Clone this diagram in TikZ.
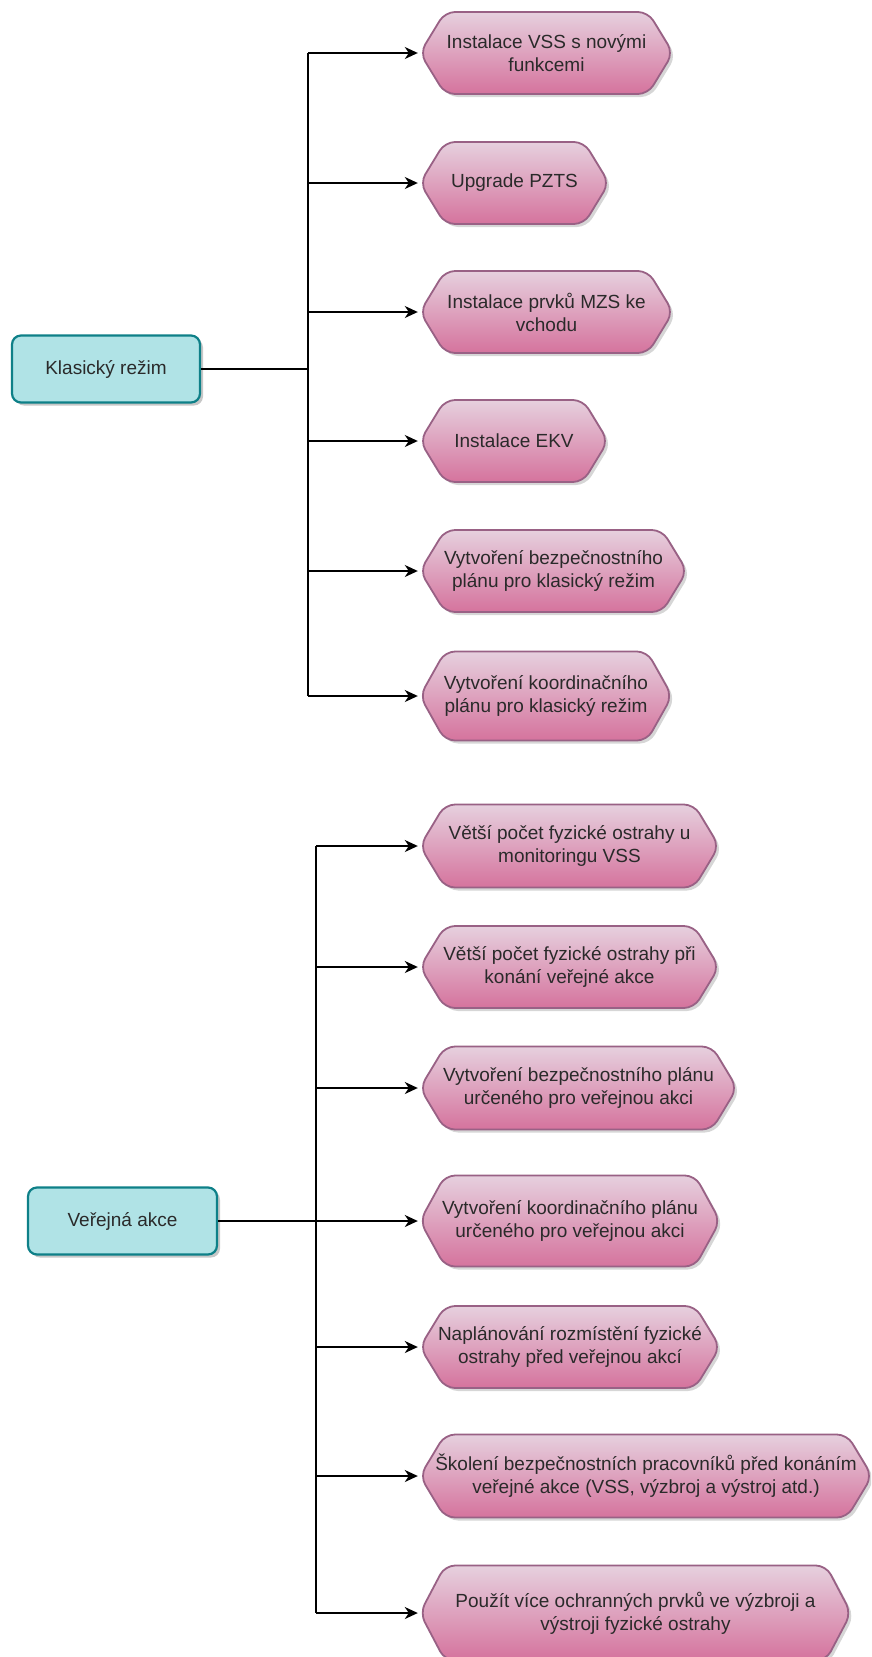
\documentclass[tikz,border=0pt]{standalone}
\usepackage{fontspec}
\setmainfont{Liberation Sans}
\usetikzlibrary{arrows.meta,shadows}
\definecolor{hexTop}{HTML}{E6D0DE}
\definecolor{hexBot}{HTML}{D5739D}
\definecolor{hexLine}{HTML}{996185}
\definecolor{boxFill}{HTML}{B0E3E6}
\definecolor{boxLine}{HTML}{0E8088}
\definecolor{txt}{HTML}{2A2A2A}
\tikzset{
  hexpath/.style={top color=hexTop, bottom color=hexBot, draw=hexLine, line width=1.8pt, rounded corners=10pt},
  hexshadow/.style={fill=black, opacity=0.16, rounded corners=10pt},
  hextext/.style={shape=rectangle, inner sep=0pt, align=center, text=txt,
    font=\fontsize{19}{23}\selectfont},
  mainbox/.style={shape=rectangle, rounded corners=9pt, draw=boxLine, fill=boxFill, line width=2.2pt,
    text=txt, font=\fontsize{19}{23}\selectfont, inner sep=0pt,
    drop shadow={shadow xshift=3pt, shadow yshift=-3pt, opacity=0.22, fill=black}},
  link/.style={draw=black, line width=1.6pt},
  arr/.style={draw=black, line width=1.6pt, -{Stealth[length=13pt,width=12pt,inset=4pt]}, shorten >=2pt}
}
% #1 name, #2 left x, #3 centre y, #4 width, #5 height, #6 text
\newcommand{\mkhex}[6]{%
  \path[hexshadow] ({#2+3},{#3+3}) -- ({#2+28},{#3+3-#5/2}) -- ({#2+#4-22},{#3+3-#5/2}) -- ({#2+#4+3},{#3+3})
     -- ({#2+#4-22},{#3+3+#5/2}) -- ({#2+28},{#3+3+#5/2}) -- cycle;
  \shade[hexpath] (#2,#3) -- ({#2+25},{#3-#5/2}) -- ({#2+#4-25},{#3-#5/2}) -- ({#2+#4},#3)
     -- ({#2+#4-25},{#3+#5/2}) -- ({#2+25},{#3+#5/2}) -- cycle;
  \node[hextext, minimum width=#4pt, minimum height=#5pt] (#1) at ({#2+#4/2},#3) {#6};
}
\begin{document}
\begin{tikzpicture}[x=1pt,y=-1pt]
\clip (0,0) rectangle (871,1657);
\fill[white] (0,0) rectangle (871,1657);

% ---------- Klasický režim ----------
\node[mainbox, minimum width=188pt, minimum height=67pt] (k) at (106,369) {Klasický režim};

\mkhex{h1}{420}{53}{253}{82}{Instalace VSS s novými\\funkcemi}
\mkhex{h2}{420}{183}{189}{82}{Upgrade PZTS}
\mkhex{h3}{420}{312}{253}{82}{Instalace prvků MZS ke\\vchodu}
\mkhex{h4}{420}{441}{188}{82}{Instalace EKV}
\mkhex{h5}{420}{571}{267}{82}{Vytvoření bezpečnostního\\plánu pro klasický režim}
\mkhex{h6}{420}{696}{252}{89}{Vytvoření koordinačního\\plánu pro klasický režim}

\coordinate (tk) at (308,369);
\draw[link] (k.east) -- (tk);
\draw[link] (tk |- h1.west) -- (tk |- h6.west);
\foreach \i in {1,...,6} \draw[arr] (tk |- h\i.west) -- (h\i.west);

% ---------- Veřejná akce ----------
\node[mainbox, minimum width=189pt, minimum height=67pt] (v) at (122.5,1221) {Veřejná akce};

\mkhex{h7}{420}{846}{299}{83}{Větší počet fyzické ostrahy u\\monitoringu VSS}
\mkhex{h8}{420}{967}{299}{82}{Větší počet fyzické ostrahy při\\konání veřejné akce}
\mkhex{h9}{420}{1088}{317}{83}{Vytvoření bezpečnostního plánu\\určeného pro veřejnou akci}
\mkhex{h10}{420}{1221}{300}{91}{Vytvoření koordinačního plánu\\určeného pro veřejnou akci}
\mkhex{h11}{420}{1347}{300}{82}{Naplánování rozmístění fyzické\\ostrahy před veřejnou akcí}
\mkhex{h12}{420}{1476}{452}{83}{Školení bezpečnostních pracovníků před konáním\\veřejné akce (VSS, výzbroj a výstroj atd.)}
\mkhex{h13}{420}{1613}{431}{95}{Použít více ochranných prvků ve výzbroji a\\výstroji fyzické ostrahy}

\coordinate (tv) at (316,1221);
\draw[link, line width=2.4pt] (v.east) -- (tv);
\draw[link] (tv |- h7.west) -- (tv |- h13.west);
\foreach \i in {7,...,13} \draw[arr] (tv |- h\i.west) -- (h\i.west);
\end{tikzpicture}
\end{document}
